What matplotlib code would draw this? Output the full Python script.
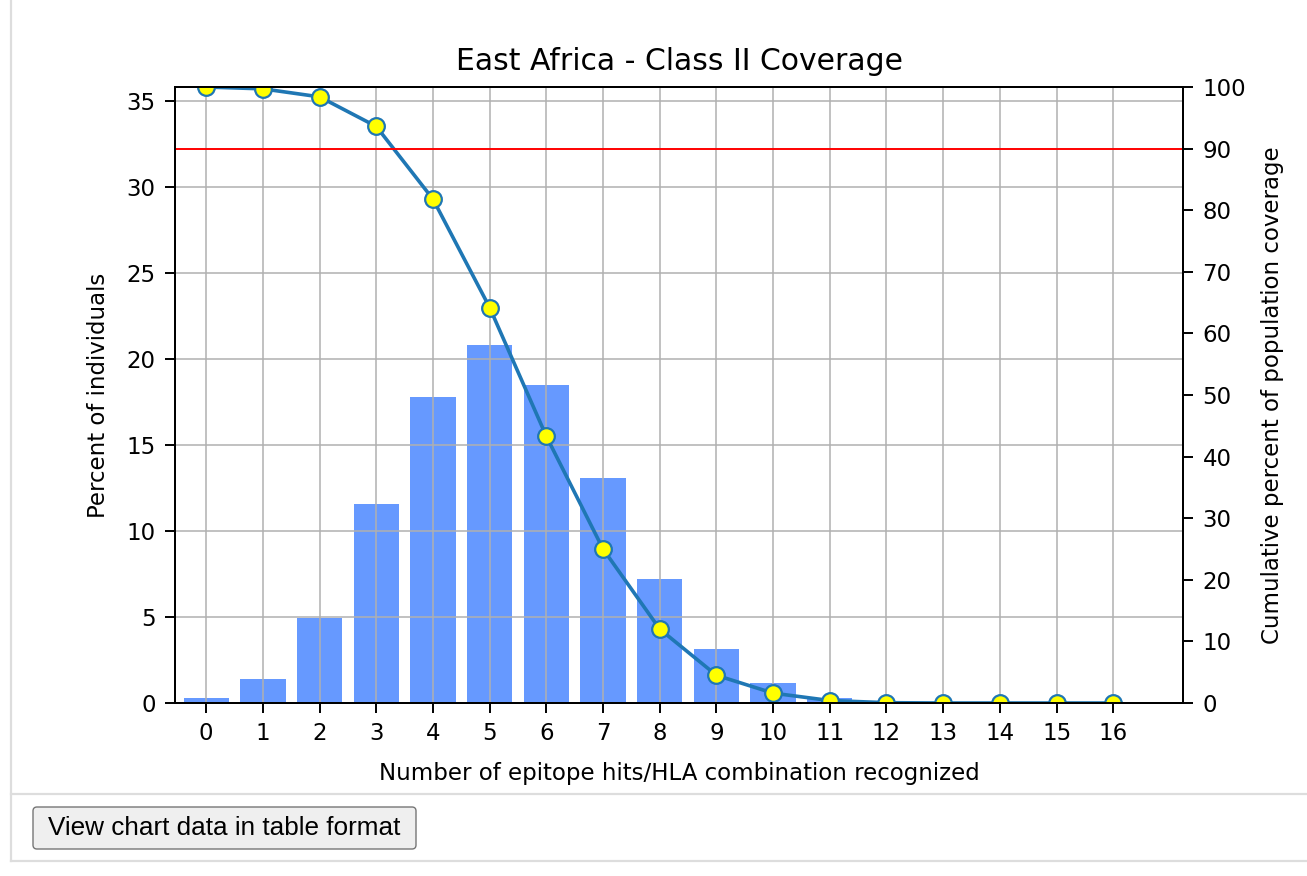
import matplotlib
matplotlib.use("Agg")
import matplotlib.pyplot as plt
from matplotlib.lines import Line2D
from matplotlib.patches import FancyBboxPatch
from matplotlib.transforms import IdentityTransform

# data
hits = list(range(17))
percent_individuals = [0.3, 1.4, 4.95, 11.55, 17.8, 20.8, 18.5, 13.05, 7.2,
                       3.13, 1.18, 0.3, 0.06, 0.02, 0.0, 0.0, 0.0]
cumulative_coverage = [100.0, 99.7, 98.4, 93.6, 81.8, 64.2, 43.3, 25.0, 12.0,
                       4.5, 1.6, 0.4, 0.05, 0.0, 0.0, 0.0, 0.0]
threshold = 90

W, H = 1307, 876
fs = 16.5
fig = plt.figure(figsize=(W / 100, H / 100), dpi=100)

ax = fig.add_axes([175 / W, 1 - 703 / H, (1183 - 175) / W, (703 - 87) / H])
ax.bar(hits, percent_individuals, width=0.8, color='#6699ff')
ax.set_xlim(-0.55, 17.23)
ax.set_ylim(0, 35.8)
ax.set_xticks(hits)
ax.grid(True, color='#b0b0b0', linewidth=1.1)
ax.set_xlabel('Number of epitope hits/HLA combination recognized', fontsize=fs, labelpad=12)
ax.set_ylabel('Percent of individuals', fontsize=fs, labelpad=12)
ax.set_title('East Africa - Class II Coverage', fontsize=21.5, pad=12)

ax2 = ax.twinx()
ax2.plot(hits, cumulative_coverage, color='#1f77b4', linewidth=2.6, marker='o',
         markersize=12, markerfacecolor='yellow', markeredgecolor='#1f77b4',
         markeredgewidth=1.6)
ax2.axhline(threshold, color='red', linewidth=1.4)
ax2.set_ylim(0, 100)
ax2.set_yticks(range(0, 101, 10))
ax2.set_ylabel('Cumulative percent of population coverage', fontsize=fs, labelpad=11)

for a in (ax, ax2):
    a.tick_params(labelsize=fs, length=7, width=1.4, pad=7)
    for s in a.spines.values():
        s.set_linewidth(1.4)

# page frame around the chart
frame = '#dddddd'
fig.add_artist(Line2D([11 / W, 11 / W], [1, 1 - 861 / H], color=frame, linewidth=1.6))
fig.add_artist(Line2D([11 / W, 1], [1 - 794 / H, 1 - 794 / H], color=frame, linewidth=1.6))
fig.add_artist(Line2D([11 / W, 1], [1 - 861 / H, 1 - 861 / H], color=frame, linewidth=1.6))

# button
btn = FancyBboxPatch((33, H - 849), 383, 42, boxstyle='round,pad=0,rounding_size=4',
                     transform=IdentityTransform(), facecolor='#efefef',
                     edgecolor='#767676', linewidth=1.0)
fig.add_artist(btn)
fig.text(224 / W, 1 - 828 / H, 'View chart data in table format', fontsize=18.8,
         family='Liberation Sans', ha='center', va='center', color='black')

fig.savefig('out.png', dpi=100)
